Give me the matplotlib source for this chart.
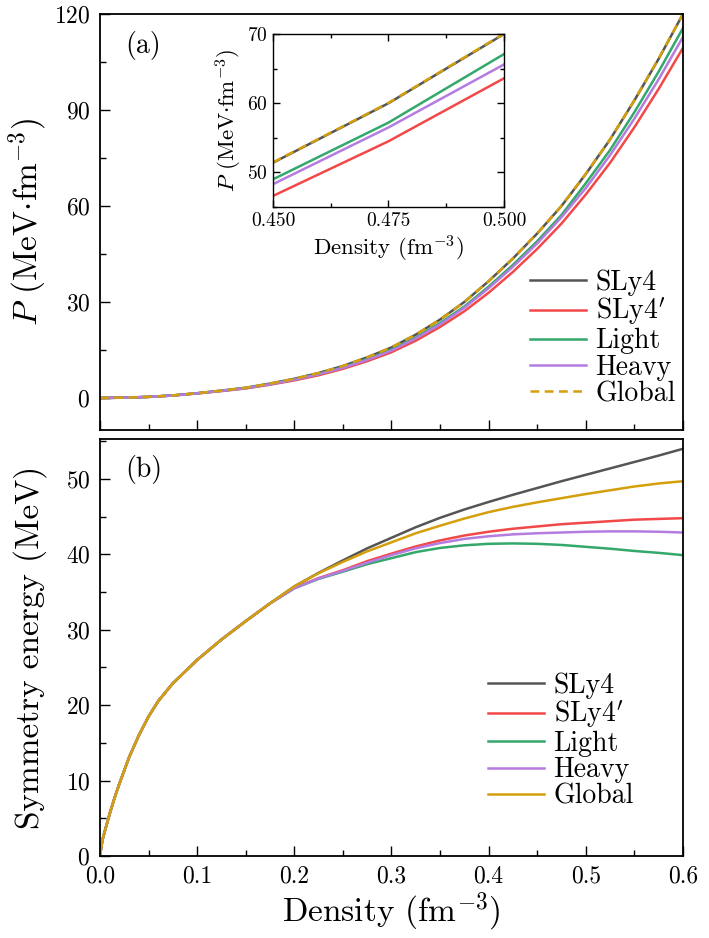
import matplotlib
matplotlib.use("Agg")
import matplotlib.pyplot as plt
from matplotlib.ticker import MultipleLocator, FormatStrFormatter

plt.rcParams['font.family'] = 'serif'
plt.rcParams['font.serif'] = ['cmr10', 'DejaVu Serif']
plt.rcParams['mathtext.fontset'] = 'cm'
plt.rcParams['axes.formatter.use_mathtext'] = True
plt.rcParams['axes.unicode_minus'] = True

# ---------------- data ----------------
labels = ["SLy4", "SLy4$'$", "Light", "Heavy", "Global"]
colors = ["#555555", "#f24848", "#33a86a", "#b47ce0", "#d49f0a"]

# pressure (panel a)
rho_p = [0.0, 0.025, 0.05, 0.075, 0.1, 0.125, 0.15, 0.175, 0.2, 0.225, 0.25, 0.275,
         0.3, 0.325, 0.35, 0.375, 0.4, 0.425, 0.45, 0.475, 0.5, 0.525, 0.55, 0.575, 0.6]
p_sly4 = [0, 0.1, 0.35, 0.8, 1.5, 2.3, 3.2, 4.5, 6.0, 7.8, 10.0, 12.7, 15.8, 19.8, 24.5,
          30.0, 36.5, 43.6, 51.4, 60.0, 70.0, 80.8, 93.0, 106.0, 120.0]
p_sly4p = [0, 0.1, 0.33, 0.75, 1.42, 2.16, 2.98, 4.15, 5.5, 7.1, 9.1, 11.5, 14.3, 17.9,
           22.2, 27.1, 32.9, 39.4, 46.6, 54.5, 63.6, 73.5, 84.6, 96.6, 109.4]
p_light = [0, 0.1, 0.34, 0.78, 1.46, 2.24, 3.1, 4.35, 5.8, 7.5, 9.6, 12.2, 15.1, 18.9,
           23.4, 28.6, 34.8, 41.6, 49.0, 57.2, 67.1, 77.5, 89.3, 102.0, 115.6]
p_heavy = [0, 0.1, 0.34, 0.77, 1.45, 2.22, 3.07, 4.3, 5.7, 7.4, 9.4, 11.9, 14.8, 18.6,
           23.0, 28.2, 34.3, 41.0, 48.3, 56.5, 65.6, 75.9, 87.3, 99.6, 112.8]
p_global = [0, 0.1, 0.35, 0.8, 1.5, 2.3, 3.2, 4.5, 6.0, 7.8, 10.0, 12.7, 15.8, 19.8, 24.5,
            30.0, 36.5, 43.6, 51.45, 60.05, 70.05, 80.85, 93.05, 106.1, 120.1]

# symmetry energy (panel b)
rho_s = [0.0, 0.0025, 0.005, 0.01, 0.015, 0.02, 0.03, 0.04, 0.05, 0.06, 0.075, 0.1,
         0.125, 0.15, 0.175, 0.2, 0.225, 0.25, 0.275, 0.3, 0.325, 0.35, 0.375, 0.4,
         0.425, 0.45, 0.475, 0.5, 0.525, 0.55, 0.575, 0.6]
s_low = [0, 2.1, 3.3, 5.6, 7.7, 9.6, 13.1, 16.0, 18.5, 20.55, 22.9, 26.0,
         28.7, 31.15, 33.5]
s_sly4 = s_low + [35.75, 37.55, 39.2, 40.8, 42.2, 43.6, 44.85, 45.95, 46.95,
                  47.9, 48.8, 49.7, 50.55, 51.4, 52.25, 53.1, 54.0]
s_sly4p = s_low + [35.55, 36.85, 37.9, 39.1, 40.1, 41.05, 41.85, 42.5, 43.0,
                   43.4, 43.7, 44.0, 44.2, 44.4, 44.6, 44.7, 44.8]
s_light = s_low + [35.5, 36.75, 37.7, 38.7, 39.5, 40.3, 40.85, 41.2, 41.4,
                   41.45, 41.4, 41.25, 41.0, 40.75, 40.45, 40.2, 39.9]
s_heavy = s_low + [35.5, 36.8, 37.8, 38.9, 39.9, 40.8, 41.5, 42.05, 42.4,
                   42.65, 42.8, 42.9, 43.0, 43.05, 43.05, 43.0, 42.9]
s_global = s_low + [35.75, 37.5, 39.0, 40.4, 41.6, 42.8, 43.8, 44.75, 45.6,
                    46.3, 46.9, 47.45, 48.0, 48.5, 49.0, 49.4, 49.7]

p_series = [p_sly4, p_sly4p, p_light, p_heavy, p_global]
s_series = [s_sly4, s_sly4p, s_light, s_heavy, s_global]

LW = 1.8
DASH = (0, (3.5, 2.2))

fig = plt.figure(figsize=(7.09, 9.38), dpi=100)
ax1 = fig.add_axes([0.141, 0.5416, 0.8223, 0.4435])
ax2 = fig.add_axes([0.141, 0.0874, 0.8223, 0.4446])
axin = fig.add_axes([0.385, 0.7793, 0.3258, 0.1844])

def style(ax, lw=1.3):
    for s in ax.spines.values():
        s.set_linewidth(lw)
    ax.tick_params(which='both', direction='in', width=1.0)
    ax.tick_params(which='major', length=7)
    ax.tick_params(which='minor', length=4)

# panel a
for i, (y, lab, c) in enumerate(zip(p_series, labels, colors)):
    ls = DASH if i == 4 else '-'
    ax1.plot(rho_p, y, color=c, lw=LW, ls=ls, label=lab)
ax1.set_xlim(0, 0.6)
ax1.set_ylim(-10, 120)
ax1.xaxis.set_major_locator(MultipleLocator(0.1))
ax1.xaxis.set_minor_locator(MultipleLocator(0.05))
ax1.yaxis.set_major_locator(MultipleLocator(30))
ax1.yaxis.set_minor_locator(MultipleLocator(15))
ax1.tick_params(axis='x', labelbottom=False)
style(ax1)
ax1.tick_params(axis='both', which='major', labelsize=17, pad=7)
ax1.set_ylabel(r"$P$ (MeV$\cdot$fm$^{-3}$)", fontsize=24)
ax1.yaxis.set_label_coords(-0.088, 0.5)
ax1.text(0.043, 0.925, "(a)", transform=ax1.transAxes, fontsize=20, va='center', ha='left')
leg1 = ax1.legend(loc='upper left', bbox_to_anchor=(0.7376, 0.386), frameon=False,
                  fontsize=20, handlelength=2.0, handletextpad=0.36, labelspacing=0.0,
                  borderpad=0, borderaxespad=0)

# inset
for i, (y, c) in enumerate(zip(p_series, colors)):
    ls = DASH if i == 4 else '-'
    axin.plot(rho_p, y, color=c, lw=LW, ls=ls)
axin.set_xlim(0.45, 0.5)
axin.set_ylim(45, 70)
axin.xaxis.set_major_locator(MultipleLocator(0.025))
axin.xaxis.set_minor_locator(MultipleLocator(0.0125))
axin.yaxis.set_major_locator(MultipleLocator(10))
axin.yaxis.set_minor_locator(MultipleLocator(5))
axin.xaxis.set_major_formatter(FormatStrFormatter('%.3f'))
axin.tick_params(which='both', right=True, top=True)
style(axin, lw=1.0)
axin.tick_params(axis='both', which='major', labelsize=14, length=5, pad=4)
axin.tick_params(which='minor', length=3)
axin.set_xlabel(r"Density (fm$^{-3}$)", fontsize=16.5, labelpad=2)
axin.set_ylabel(r"$P$ (MeV$\cdot$fm$^{-3}$)", fontsize=16.5, labelpad=2)

# panel b
for y, lab, c in zip(s_series, labels, colors):
    ax2.plot(rho_s, y, color=c, lw=LW, label=lab)
ax2.set_xlim(0, 0.6)
ax2.set_ylim(0, 55.3)
ax2.xaxis.set_major_locator(MultipleLocator(0.1))
ax2.xaxis.set_minor_locator(MultipleLocator(0.05))
ax2.yaxis.set_major_locator(MultipleLocator(10))
ax2.yaxis.set_minor_locator(MultipleLocator(5))
ax2.xaxis.set_major_formatter(FormatStrFormatter('%.1f'))
style(ax2)
ax2.tick_params(axis='both', which='major', labelsize=17, pad=7)
ax2.set_xlabel(r"Density (fm$^{-3}$)", fontsize=24, labelpad=2)
ax2.set_ylabel("Symmetry energy (MeV)", fontsize=24)
ax2.yaxis.set_label_coords(-0.09, 0.5)
ax2.text(0.043, 0.926, "(b)", transform=ax2.transAxes, fontsize=20, va='center', ha='left')
leg2 = ax2.legend(loc='upper left', bbox_to_anchor=(0.6655, 0.441), frameon=False,
                  fontsize=20, handlelength=2.0, handletextpad=0.36, labelspacing=0.0,
                  borderpad=0, borderaxespad=0)

fig.savefig("out.png", dpi=100)
